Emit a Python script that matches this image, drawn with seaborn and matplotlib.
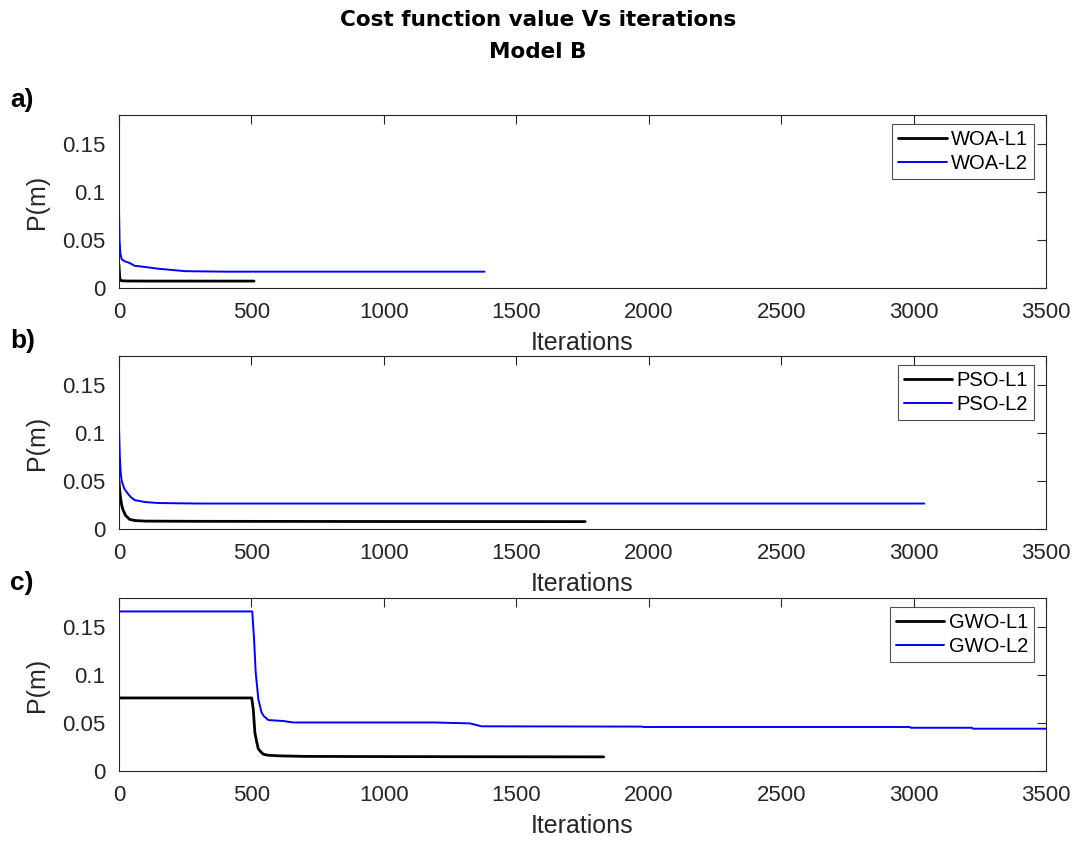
import matplotlib
matplotlib.use("Agg")
import matplotlib.pyplot as plt
import seaborn as sns
import pandas as pd

sns.set_theme(style="white")
plt.rcParams["font.family"] = ["Liberation Sans", "DejaVu Sans"]

# Convergence histories: (iteration, cost) breakpoints for each run
woa_l1_iter = [0, 1, 3, 6, 10, 30, 100, 300, 510]
woa_l1_cost = [0.024, 0.018, 0.010, 0.0080, 0.0075, 0.0073, 0.0072, 0.0072, 0.0072]
woa_l2_iter = [0, 2, 5, 10, 20, 40, 60, 80, 150, 250, 400, 800, 1380]
woa_l2_cost = [0.083, 0.050, 0.036, 0.030, 0.028, 0.026, 0.023, 0.0225, 0.020, 0.0175, 0.0170, 0.0170, 0.0170]

pso_l1_iter = [0, 2, 5, 10, 15, 25, 40, 60, 100, 300, 1000, 1760]
pso_l1_cost = [0.050, 0.042, 0.034, 0.025, 0.020, 0.014, 0.010, 0.0088, 0.0082, 0.0080, 0.0078, 0.0077]
pso_l2_iter = [0, 3, 6, 10, 20, 30, 45, 60, 80, 100, 150, 300, 1000, 3040]
pso_l2_cost = [0.106, 0.076, 0.060, 0.050, 0.042, 0.038, 0.033, 0.030, 0.029, 0.028, 0.027, 0.0265, 0.0265, 0.0265]

gwo_l1_iter = [0, 501, 507, 513, 520, 526, 535, 545, 560, 600, 700, 1000, 1500, 1830]
gwo_l1_cost = [0.076, 0.076, 0.064, 0.040, 0.030, 0.023, 0.020, 0.0175, 0.0165, 0.0158, 0.0152, 0.0150, 0.0148, 0.0147]
gwo_l2_iter = [0, 503, 510, 516, 526, 538, 547, 564, 620, 657, 1190, 1326, 1368, 1975,
               1980, 2985, 2990, 3220, 3225, 3500]
gwo_l2_cost = [0.166, 0.166, 0.137, 0.103, 0.075, 0.061, 0.057, 0.053, 0.052, 0.0505, 0.0505,
               0.0495, 0.0465, 0.0462, 0.0458, 0.0458, 0.0450, 0.0450, 0.0440, 0.0440]

panel_tags = ["a)", "b)", "c)"]
series_names = [("WOA-L1", "WOA-L2"), ("PSO-L1", "PSO-L2"), ("GWO-L1", "GWO-L2")]
series_data = [
    ((woa_l1_iter, woa_l1_cost), (woa_l2_iter, woa_l2_cost)),
    ((pso_l1_iter, pso_l1_cost), (pso_l2_iter, pso_l2_cost)),
    ((gwo_l1_iter, gwo_l1_cost), (gwo_l2_iter, gwo_l2_cost)),
]
x_ticks = [0, 500, 1000, 1500, 2000, 2500, 3000, 3500]
y_ticks = [0, 0.05, 0.1, 0.15]
y_tick_labels = ["0", "0.05", "0.1", "0.15"]

W, H = 1076, 842
fig = plt.figure(figsize=(W / 100, H / 100), dpi=100)
ax_left, ax_width, ax_height = 119 / W, 927 / W, 173 / H
ax_tops_px = [115, 356, 598]
edge = "#262626"

for tag, names, data, top_px in zip(panel_tags, series_names, series_data, ax_tops_px):
    bottom = 1 - (top_px + 173) / H
    ax = fig.add_axes([ax_left, bottom, ax_width, ax_height])
    (x1, y1), (x2, y2) = data
    df1 = pd.DataFrame({"Iterations": x1, "P(m)": y1})
    df2 = pd.DataFrame({"Iterations": x2, "P(m)": y2})
    sns.lineplot(data=df1, x="Iterations", y="P(m)", ax=ax, color="black",
                 linewidth=2.0, label=names[0], sort=False, estimator=None)
    sns.lineplot(data=df2, x="Iterations", y="P(m)", ax=ax, color="#0000ff",
                 linewidth=1.4, label=names[1], sort=False, estimator=None)
    ax.set_xlim(0, 3500)
    ax.set_ylim(0, 0.18)
    ax.set_xticks(x_ticks)
    ax.set_xticklabels([str(t) for t in x_ticks])
    ax.set_yticks(y_ticks)
    ax.set_yticklabels(y_tick_labels)
    ax.tick_params(axis="both", which="both", direction="in", length=6.5, width=0.8,
                   top=True, right=True, labelsize=16, colors=edge, labelcolor=edge)
    ax.tick_params(axis="x", pad=10)
    ax.tick_params(axis="y", pad=10)
    for sp in ax.spines.values():
        sp.set_color(edge)
        sp.set_linewidth(0.8)
    ax.set_xlabel("Iterations", fontsize=18, labelpad=6, color=edge)
    ax.set_ylabel("P(m)", fontsize=18, labelpad=9, color=edge)
    leg = ax.legend(loc="upper right", bbox_to_anchor=(1 - 12 / 927, 1 - 9 / 173),
                    borderaxespad=0, fontsize=14.5, frameon=True, fancybox=False,
                    edgecolor=edge, handlelength=2.4, handletextpad=0.22,
                    borderpad=0.3, labelspacing=0.25)
    leg.get_frame().set_linewidth(0.8)
    for t in leg.get_texts():
        t.set_color("black")
    fig.text(10 / W, 1 - (top_px - 8) / H, tag, fontsize=19, fontweight="bold",
             ha="left", va="baseline", color="black")

fig.suptitle("Cost function value Vs iterations\nModel B", fontsize=15.5,
             fontweight="bold", family="DejaVu Sans", y=0.988, linespacing=1.75,
             color="black")

fig.savefig("out.png", dpi=100)
